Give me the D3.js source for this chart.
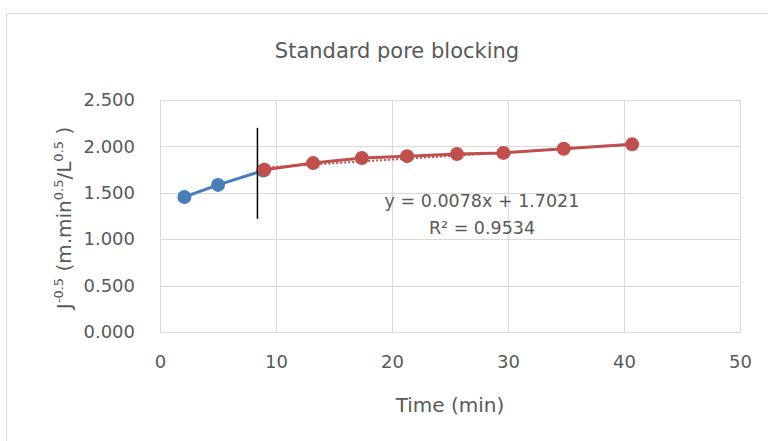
<!DOCTYPE html>
<html>
<head>
<meta charset="utf-8">
<script src="https://cdn.jsdelivr.net/npm/d3@7"></script>
<style>
  body { margin: 0; background: #fff; }
  text { font-family: "DejaVu Sans", "Liberation Sans", sans-serif; fill: #595959; }
</style>
</head>
<body>
<svg id="chart" width="768" height="441"></svg>
<script>
// data
const blueTime = [2.1, 5.0, 8.9]
const blueJ    = [1.455, 1.585, 1.740]
const redTime  = [9.0, 13.2, 17.4, 21.3, 25.6, 29.6, 34.8, 40.7]
const redJ     = [1.748, 1.820, 1.875, 1.895, 1.918, 1.930, 1.975, 2.022]
const trend    = {slope: 0.0078, intercept: 1.7021, r2: 0.9534}
const cutLine  = {x: 8.4, y0: 1.22, y1: 2.20}
const xTicks   = [0, 10, 20, 30, 40, 50]
const yTicks   = [0, 0.5, 1.0, 1.5, 2.0, 2.5]

const svg = d3.select("#chart")
const m = {left: 160, right: 740, top: 100, bottom: 332}

const x = d3.scaleLinear().domain([0, 50]).range([m.left, m.right])
const y = d3.scaleLinear().domain([0, 2.5]).range([m.bottom, m.top])

// outer chart frame
svg.append("rect").attr("x", 6.5).attr("y", 13.5).attr("width", 800).attr("height", 500)
	.attr("fill", "#fff").attr("stroke", "#d9d9d9").attr("stroke-width", 1)

// grid
const grid = svg.append("g").attr("stroke", "#d9d9d9").attr("stroke-width", 1)
grid.selectAll(".h").data(yTicks).join("line")
	.attr("x1", m.left).attr("x2", m.right)
	.attr("y1", d => Math.round(y(d)) + 0.5).attr("y2", d => Math.round(y(d)) + 0.5)
grid.selectAll(".v").data(xTicks).join("line")
	.attr("y1", m.top).attr("y2", m.bottom)
	.attr("x1", d => Math.round(x(d)) + 0.5).attr("x2", d => Math.round(x(d)) + 0.5)

// axes (labels only, Excel style)
const xAxis = svg.append("g").attr("transform", `translate(0,${m.bottom + 20})`)
	.call(d3.axisBottom(x).tickValues(xTicks).tickSize(0).tickFormat(d3.format("d")))
xAxis.select(".domain").remove()
xAxis.selectAll("text").style("font-size", "18px").attr("fill", "#595959")

const yAxis = svg.append("g").attr("transform", `translate(${m.left - 22},0)`)
	.call(d3.axisLeft(y).tickValues(yTicks).tickSize(0).tickFormat(d3.format(".3f")))
yAxis.select(".domain").remove()
yAxis.selectAll("text").style("font-size", "18px").attr("fill", "#595959")

// title
svg.append("text").attr("x", 397).attr("y", 58).attr("text-anchor", "middle")
	.style("font-size", "21px").text("Standard pore blocking")

// axis titles
svg.append("text").attr("x", 450).attr("y", 412).attr("text-anchor", "middle")
	.style("font-size", "20px").text("Time (min)")

const yt = svg.append("text").attr("transform", "translate(71,218) rotate(-90)")
	.attr("text-anchor", "middle").style("font-size", "20px")
yt.append("tspan").text("J")
yt.append("tspan").attr("dy", -8).style("font-size", "13px").text("-0.5")
yt.append("tspan").attr("dy", 8).text(" (m.min")
yt.append("tspan").attr("dy", -8).style("font-size", "13px").text("0.5")
yt.append("tspan").attr("dy", 8).text("/L")
yt.append("tspan").attr("dy", -8).style("font-size", "13px").text("0.5")
yt.append("tspan").attr("dy", 8).text(" )")

// series
const line = d3.line().x(d => x(d[0])).y(d => y(d[1]))
const blue = d3.zip(blueTime, blueJ)
const red  = d3.zip(redTime, redJ)

svg.append("path").datum(blue).attr("d", line)
	.attr("fill", "none").attr("stroke", "#4a7ebb").attr("stroke-width", 3)
svg.selectAll(".bp").data(blue).join("circle")
	.attr("cx", d => x(d[0])).attr("cy", d => y(d[1])).attr("r", 7).attr("fill", "#4a7ebb")

// vertical separator
svg.append("line").attr("x1", x(cutLine.x)).attr("x2", x(cutLine.x))
	.attr("y1", y(cutLine.y0)).attr("y2", y(cutLine.y1))
	.attr("stroke", "#000").attr("stroke-width", 1.5)

svg.append("path").datum(red).attr("d", line)
	.attr("fill", "none").attr("stroke", "#c0504d").attr("stroke-width", 3)

// linear trendline (dotted)
const tx = d3.extent(redTime)
svg.append("path").datum(tx.map(t => [t, trend.slope * t + trend.intercept])).attr("d", line)
	.attr("fill", "none").attr("stroke", "#c0504d").attr("stroke-width", 2)
	.attr("stroke-dasharray", "2,2")

svg.selectAll(".rp").data(red).join("circle")
	.attr("cx", d => x(d[0])).attr("cy", d => y(d[1])).attr("r", 7).attr("fill", "#c0504d")

// trendline label
svg.append("text").attr("x", 482).attr("y", 207).attr("text-anchor", "middle")
	.style("font-size", "17.5px").text(`y = ${trend.slope}x + ${trend.intercept}`)
svg.append("text").attr("x", 482).attr("y", 234).attr("text-anchor", "middle")
	.style("font-size", "17.5px").text(`R² = ${trend.r2}`)
</script>
</body>
</html>
